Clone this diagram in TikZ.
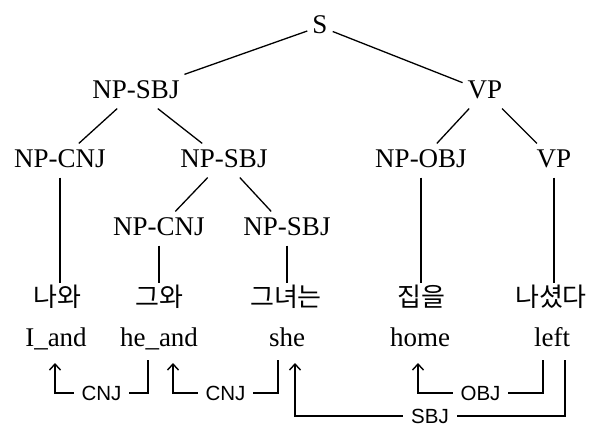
\documentclass[tikz,border=0pt]{standalone}
\usepackage{fontspec}
\setmainfont{Liberation Serif}
\newfontfamily\labelfont{Liberation Sans}
\newfontfamily\krfont{Noto Sans CJK KR}
\usetikzlibrary{arrows.meta}
\begin{document}
\begin{tikzpicture}[x=1pt,y=-1pt,
  cat/.style={font=\fontsize{27}{30}\selectfont, text height=18.4pt, text depth=5.4pt,
              inner xsep=5pt, inner ysep=5pt, anchor=base},
  kr/.style={font=\krfont\fontsize{26}{30}\selectfont, text height=21pt, text depth=3pt,
             inner sep=2pt, anchor=base},
  word/.style={font=\fontsize{27}{30}\selectfont, inner sep=2pt, anchor=base},
  edge/.style={line width=1.3pt},
  dep/.style={line width=1.4pt, arrows={Straight Barb[length=6pt,width=11pt]-}},
  lab/.style={fill=white, inner xsep=8pt, inner ysep=1pt,
              font=\labelfont\fontsize{20.5}{22}\selectfont}]
\useasboundingbox (0,0) rectangle (597,426);

% phrase structure
\node[cat] (s)      at (320,33)  {S};
\node[cat] (np1)    at (136,98)  {NP-SBJ};
\node[cat] (vp1)    at (485,98)  {VP};
\node[cat] (npcnj1) at (60,167)  {NP-CNJ};
\node[cat] (np2)    at (224,167) {NP-SBJ};
\node[cat] (npobj)  at (421,167) {NP-OBJ};
\node[cat] (vp2)    at (554,167) {VP};
\node[cat] (npcnj2) at (159,235) {NP-CNJ};
\node[cat] (np3)    at (287,235) {NP-SBJ};

% Korean words
\node[kr] (nawa)  at (57,306)  {나와};
\node[kr] (guwa)  at (159,306) {그와};
\node[kr] (gunyeo) at (286,306) {그녀는};
\node[kr] (jib)   at (421,306) {집을};
\node[kr] (nasyeo) at (551,306) {나셨다};

% glosses
\node[word] (iand)  at (56,346)  {I\_and};
\node[word] (heand) at (159,346) {he\_and};
\node[word] (she)   at (287,346) {she};
\node[word] (home)  at (420,346) {home};
\node[word] (left)  at (552,346) {left};

% tree branches
\draw[edge] (s) -- (np1);
\draw[edge] (s) -- (vp1);
\draw[edge] (np1) -- (npcnj1);
\draw[edge] (np1) -- (np2);
\draw[edge] (vp1) -- (npobj);
\draw[edge] (vp1) -- (vp2);
\draw[edge] (np2) -- (npcnj2);
\draw[edge] (np2) -- (np3);
\draw[edge] (npcnj1) -- (npcnj1 |- nawa.north);
\draw[edge] (npcnj2) -- (npcnj2 |- guwa.north);
\draw[edge] (np3) -- (np3 |- gunyeo.north);
\draw[edge] (npobj) -- (npobj |- jib.north);
\draw[edge] (vp2) -- (vp2 |- nasyeo.north);

% dependency connectors
\coordinate (ya) at (0,393);
\coordinate (yb) at (0,416);
\coordinate (iandin)  at ([xshift=-1pt,yshift=-17pt]iand.base);
\coordinate (heout)   at ([xshift=-11pt,yshift=-14pt]heand.base);
\coordinate (hein)    at ([xshift=14pt,yshift=-17pt]heand.base);
\coordinate (sheout)  at ([xshift=-9pt,yshift=-14pt]she.base);
\coordinate (shein)   at ([xshift=8pt,yshift=-17pt]she.base);
\coordinate (homein)  at ([xshift=-2pt,yshift=-17pt]home.base);
\coordinate (leftobj) at ([xshift=-9pt,yshift=-14pt]left.base);
\coordinate (leftsbj) at ([xshift=13pt,yshift=-14pt]left.base);

\draw[dep] (iandin) -- (iandin |- ya) -- node[lab]{CNJ} (heout |- ya) -- (heout);
\draw[dep] (hein) -- (hein |- ya) -- node[lab]{CNJ} (sheout |- ya) -- (sheout);
\draw[dep] (homein) -- (homein |- ya) -- node[lab]{OBJ} (leftobj |- ya) -- (leftobj);
\draw[dep] (shein) -- (shein |- yb) -- node[lab]{SBJ} (leftsbj |- yb) -- (leftsbj);
\end{tikzpicture}
\end{document}
